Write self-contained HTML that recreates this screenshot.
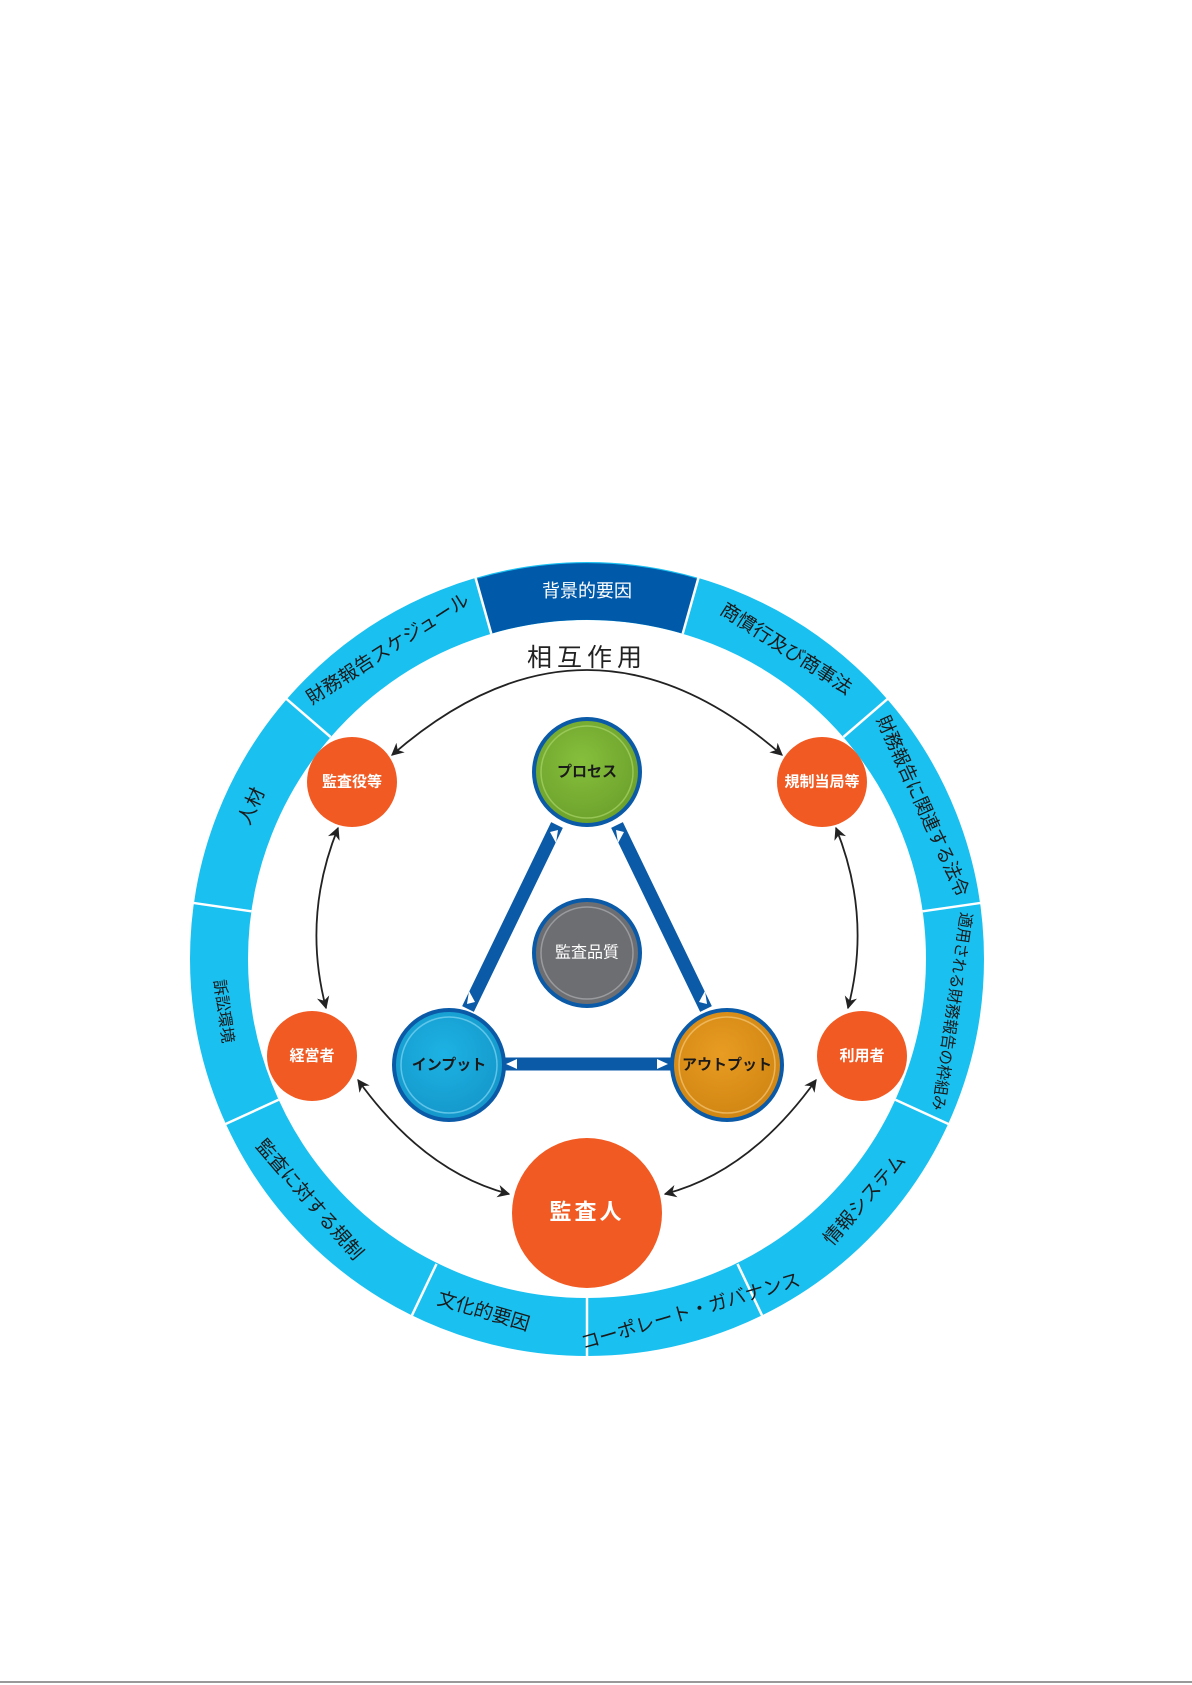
<!DOCTYPE html>
<html><head><meta charset="utf-8"><style>
html,body{margin:0;padding:0;background:#fff;}
svg{display:block;}
text{font-family:"Liberation Sans","Noto Sans CJK JP",sans-serif;}
</style></head><body>
<svg width="1192" height="1685" viewBox="0 0 1192 1685" xmlns="http://www.w3.org/2000/svg">
<defs>
<radialGradient id="gG" cx="45%" cy="40%" r="65%"><stop offset="0" stop-color="#86bf3c"/><stop offset="1" stop-color="#6a9f2a"/></radialGradient>
<radialGradient id="gB" cx="45%" cy="40%" r="65%"><stop offset="0" stop-color="#1db3e4"/><stop offset="1" stop-color="#1495c8"/></radialGradient>
<radialGradient id="gO" cx="45%" cy="40%" r="65%"><stop offset="0" stop-color="#e89c22"/><stop offset="1" stop-color="#cf8412"/></radialGradient>
<marker id="ah" viewBox="0 0 10 10" refX="9" refY="5" markerWidth="7" markerHeight="7" orient="auto-start-reverse"><path d="M0,0 L10,5 L0,10 L3,5 z" fill="#222"/></marker>
</defs>

<circle cx="587" cy="959" r="368" fill="none" stroke="#19c0f0" stroke-width="58"/>
<path d="M 475.9 579.0 A 397 397 0 0 1 698.1 579.0 L 682.6 633.6 A 339 339 0 0 0 491.4 633.6 Z" fill="#0059a9"/>
<g stroke="#fff" stroke-width="2.5">
<line x1="682.7" y1="633.8" x2="699.0" y2="575.9"/>
<line x1="843.4" y1="737.0" x2="889.1" y2="697.6"/>
<line x1="922.6" y1="911.3" x2="982.3" y2="902.7"/>
<line x1="895.4" y1="1099.8" x2="950.3" y2="1124.9"/>
<line x1="737.5" y1="1263.9" x2="763.5" y2="1318.4"/>
<line x1="587" y1="1298" x2="587" y2="1357"/>
<line x1="436.5" y1="1263.9" x2="410.5" y2="1318.4"/>
<line x1="278.6" y1="1099.8" x2="223.7" y2="1124.9"/>
<line x1="251.4" y1="911.3" x2="191.7" y2="902.7"/>
<line x1="330.6" y1="737.0" x2="284.9" y2="697.6"/>
<line x1="491.3" y1="633.8" x2="475.0" y2="575.9"/>
</g>
<g font-size="19" fill="#1a1a1a" text-anchor="middle" dominant-baseline="central">
<text transform="translate(587,591) rotate(0)" fill="#fff" font-size="18">背景的要因</text>
<text transform="translate(785.8,649.4) rotate(32.7)">商慣行及び商事法</text>
<text transform="translate(921.9,806.4) rotate(65.5)" textLength="196" lengthAdjust="spacingAndGlyphs">財務報告に関連する法令</text>
<text transform="translate(951.2,1011.4) rotate(98.2)" font-size="16" textLength="200" lengthAdjust="spacingAndGlyphs">適用される財務報告の枠組み</text>
<text transform="translate(865.1,1200.1) rotate(-49.1)">情報システム</text>
<text transform="translate(690.7,1312.1) rotate(-16.4)">コーポレート・ガバナンス</text>
<text transform="translate(483.3,1312.1) rotate(16.4)">文化的要因</text>
<text transform="translate(308.9,1200.1) rotate(49.1)">監査に対する規制</text>
<text transform="translate(222.8,1011.4) rotate(81.8)" font-size="16">訴訟環境</text>
<text transform="translate(252.1,806.4) rotate(-65.5)">人材</text>
<text transform="translate(388.2,649.4) rotate(-32.7)">財務報告スケジュール</text>
</g>

<text x="587" y="666" font-size="25" text-anchor="middle" fill="#222" letter-spacing="5">相互作用</text>

<g fill="none" stroke="#222" stroke-width="1.8" marker-start="url(#ah)" marker-end="url(#ah)">
<path d="M 392 755 Q 587 585 782 755"/>
<path d="M 338 828 Q 302 917 326 1008"/>
<path d="M 836 828 Q 872 917 848 1008"/>
<path d="M 358 1080 Q 424 1172 509 1194"/>
<path d="M 816 1080 Q 750 1172 665 1194"/>
</g>

<g stroke="#0a5aa8" stroke-width="13" stroke-linecap="butt">
<line x1="557" y1="825" x2="468" y2="1009"/>
<line x1="617" y1="825" x2="706" y2="1009"/>
<line x1="503" y1="1064" x2="671" y2="1064"/>
</g>
<g fill="#fff">
<polygon points="558,830 550,832 556,843" />
<polygon points="467,1004 475,1002 469,991" />
<polygon points="616,830 624,832 618,843" />
<polygon points="707,1004 699,1002 705,991" />
<polygon points="506,1064 517,1059 517,1069" />
<polygon points="668,1064 657,1059 657,1069" />
</g>

<g fill="#f15a22">
<circle cx="352" cy="782" r="45"/>
<circle cx="822" cy="782" r="45"/>
<circle cx="312" cy="1056" r="45"/>
<circle cx="862" cy="1056" r="45"/>
<circle cx="587" cy="1213" r="75"/>
</g>
<g fill="#fff" font-size="15" font-weight="bold" text-anchor="middle" dominant-baseline="central">
<text x="352" y="782">監査役等</text>
<text x="822" y="782">規制当局等</text>
<text x="312" y="1056">経営者</text>
<text x="862" y="1056">利用者</text>
<text x="587" y="1212" font-size="22" letter-spacing="3">監査人</text>
</g>

<circle cx="587" cy="772" r="53" fill="url(#gG)" stroke="#0a5aa8" stroke-width="4"/>
<circle cx="587" cy="772" r="46" fill="none" stroke="#a8d46a" stroke-width="1.5" opacity="0.7"/>
<circle cx="449" cy="1065" r="55" fill="url(#gB)" stroke="#0a5aa8" stroke-width="4"/>
<circle cx="449" cy="1065" r="48" fill="none" stroke="#7fd6f3" stroke-width="1.5" opacity="0.7"/>
<circle cx="727" cy="1065" r="55" fill="url(#gO)" stroke="#0a5aa8" stroke-width="4"/>
<circle cx="727" cy="1065" r="48" fill="none" stroke="#f5c878" stroke-width="1.5" opacity="0.7"/>
<circle cx="587" cy="953" r="53" fill="#6d6e71" stroke="#0a5aa8" stroke-width="4"/>
<circle cx="587" cy="953" r="46" fill="none" stroke="#9a9b9e" stroke-width="1.5"/>
<g font-size="15" font-weight="bold" text-anchor="middle" dominant-baseline="central" fill="#1a1a1a">
<text x="587" y="772">プロセス</text>
<text x="449" y="1065">インプット</text>
<text x="727" y="1065">アウトプット</text>
<text x="587" y="953" fill="#fff" font-weight="normal" font-size="16">監査品質</text>
</g>

<line x1="0" y1="1682" x2="1192" y2="1682" stroke="#333" stroke-width="1"/>
</svg>
</body></html>
